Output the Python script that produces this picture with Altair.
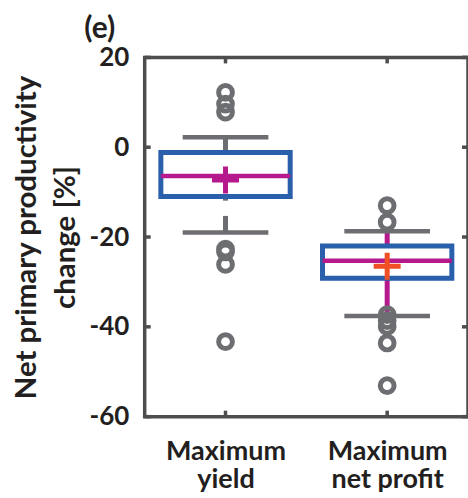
import altair as alt
import pandas as pd

# Box statistics per scenario (net primary productivity change, %)
categories = ["Maximum yield", "Maximum net profit"]
label_lines = [["Maximum", "yield"], ["Maximum", "net profit"]]
positions = [1, 2]
q1 = [-11.0, -29.2]
q3 = [-1.2, -22.0]
medians = [-6.4, -25.3]
means = [-7.3, -26.5]
whisker_low = [-19.0, -37.6]
whisker_high = [2.2, -18.7]

# Outlying values per scenario
outliers_yield = [12.2, 9.6, 7.8, -22.7, -23.3, -26.1, -43.3]
outliers_profit = [-13.0, -16.7, -37.3, -38.6, -39.9, -43.6, -53.1]

# Whisker stems: (scenario index, from, to, colour)
stem_group = [0, 0, 0, 1, 1]
stem_from = [-1.2, -11.0, -15.3, -22.0, -29.2]
stem_to = [2.2, -11.9, -19.0, -18.7, -37.6]
stem_color = ["#6d6e71", "#6d6e71", "#6d6e71", "#b5198c", "#b5198c"]
mean_colors = ["#b5198c", "#f04e23"]

Y_TICKS = [-60, -40, -20, 0, 20]

GRAY = "#6d6e71"
BLUE = "#2a5fab"
MAGENTA = "#b5198c"
AXIS = "#4d4d4f"
TEXT = "#231f20"
FONT = "Lato"

W, H = 324, 360
BOX_HALF = 0.4
CAP_HALF = 0.265

boxes = pd.DataFrame({
    "cat": categories,
    "pos": positions,
    "lo": [p - BOX_HALF for p in positions],
    "hi": [p + BOX_HALF for p in positions],
    "cap_lo": [p - CAP_HALF for p in positions],
    "cap_hi": [p + CAP_HALF for p in positions],
    "q1": q1,
    "q3": q3,
    "median": medians,
    "mean": means,
    "wlo": whisker_low,
    "whi": whisker_high,
    "mean_color": mean_colors,
})

stems = pd.DataFrame({
    "pos": [positions[g] for g in stem_group],
    "y1": stem_from,
    "y2": stem_to,
    "color": stem_color,
})

outliers = pd.DataFrame({
    "pos": [positions[0]] * len(outliers_yield) + [positions[1]] * len(outliers_profit),
    "value": outliers_yield + outliers_profit,
})

tick_df = pd.DataFrame({"y": Y_TICKS})
xtick_df = pd.DataFrame({"pos": positions})

label_expr = " : ".join(
    f"datum.value == {p} ? {lines!r}" for p, lines in zip(positions, label_lines)
) + " : ''"

x_scale = alt.Scale(domain=[0.5, 2.5], nice=False, zero=False)
y_scale = alt.Scale(domain=[-60, 20], nice=False, zero=False)

x_axis = alt.Axis(
    values=positions, labelExpr=label_expr, title=None, domain=False, ticks=False,
    grid=False, labelFont=FONT, labelFontSize=27, labelFontWeight="bold",
    labelColor=TEXT, labelPadding=22, labelLineHeight=28, labelAngle=0,
)
y_axis = alt.Axis(
    values=Y_TICKS, labelExpr="'' + datum.value", domain=False, ticks=False,
    grid=False, labelFont=FONT, labelFontSize=26, labelFontWeight="bold",
    labelColor=TEXT, labelPadding=16,
    title=["Net primary productivity", "change [%]"], titleFont=FONT,
    titleFontSize=29.5, titleFontWeight="bold", titleColor=TEXT, titlePadding=8,
    titleLineHeight=40,
)

base = alt.Chart(boxes)

stem_layer = alt.Chart(stems).mark_rule(strokeWidth=5).encode(
    x=alt.X("pos:Q", scale=x_scale, axis=x_axis),
    y=alt.Y("y1:Q", scale=y_scale, axis=y_axis),
    y2="y2:Q",
    color=alt.Color("color:N", scale=None),
)

cap_low = base.mark_rule(color=GRAY, strokeWidth=4.5).encode(
    x="cap_lo:Q", x2="cap_hi:Q", y="wlo:Q"
)
cap_high = base.mark_rule(color=GRAY, strokeWidth=4.5).encode(
    x="cap_lo:Q", x2="cap_hi:Q", y="whi:Q"
)

box_layer = base.mark_rect(fill=None, stroke=BLUE, strokeWidth=5).encode(
    x="lo:Q", x2="hi:Q", y="q1:Q", y2="q3:Q"
)

median_layer = base.mark_rule(color=MAGENTA, strokeWidth=4.5).encode(
    x="lo:Q", x2="hi:Q", y="median:Q"
)

mean_layer = base.mark_point(
    shape="M-1,0H1M0,-1V1", size=729, filled=False, strokeWidth=5, opacity=1
).encode(
    x="pos:Q", y="mean:Q", color=alt.Color("mean_color:N", scale=None)
)

outlier_layer = alt.Chart(outliers).mark_point(
    shape="circle", size=190, filled=False, color=GRAY, strokeWidth=5, opacity=1
).encode(x="pos:Q", y="value:Q")

# Inward tick marks on all four sides of the frame
left_ticks = alt.Chart(tick_df).mark_rule(color=AXIS, strokeWidth=3.5).encode(
    x=alt.value(0), x2=alt.value(6), y="y:Q"
)
right_ticks = alt.Chart(tick_df).mark_rule(color=AXIS, strokeWidth=3.5).encode(
    x=alt.value(W - 6), x2=alt.value(W), y="y:Q"
)
top_ticks = alt.Chart(xtick_df).mark_rule(color=AXIS, strokeWidth=3.5).encode(
    x="pos:Q", y=alt.value(0), y2=alt.value(6)
)
bottom_ticks = alt.Chart(xtick_df).mark_rule(color=AXIS, strokeWidth=3.5).encode(
    x="pos:Q", y=alt.value(H - 6), y2=alt.value(H)
)

panel_label = alt.Chart(pd.DataFrame({"t": ["(e)"]})).mark_text(
    font=FONT, fontSize=30, fontWeight="bold", color=TEXT, align="center",
    baseline="alphabetic",
).encode(x=alt.value(-45), y=alt.value(-19), text="t:N")

chart = alt.layer(
    stem_layer, cap_low, cap_high, box_layer, median_layer, mean_layer,
    outlier_layer, left_ticks, right_ticks, top_ticks, bottom_ticks, panel_label,
).properties(
    width=W, height=H,
    autosize=alt.AutoSizeParams(type="none"),
    padding={"left": 145, "top": 57, "right": 0, "bottom": 81},
    background="white",
).configure_view(
    stroke=AXIS, strokeWidth=3.5
)

chart.save("out.html", embed_options={"renderer": "svg", "actions": False})
